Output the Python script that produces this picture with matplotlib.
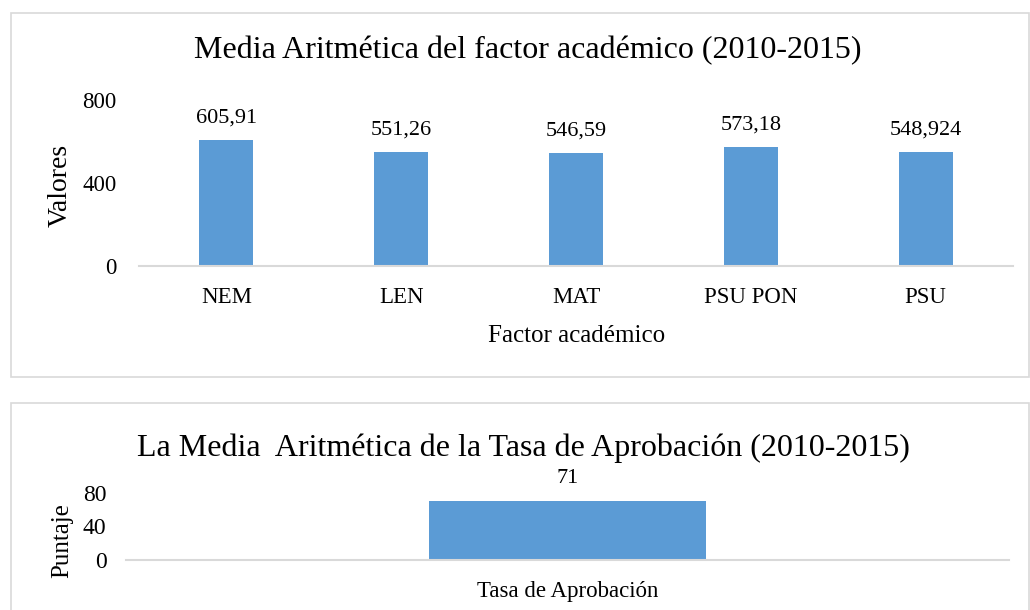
import matplotlib
matplotlib.use('Agg')
from matplotlib import pyplot as plt
from matplotlib.patches import Rectangle

plt.rcParams['font.family'] = ['Liberation Serif', 'DejaVu Serif']

# datos
factores = ['NEM', 'LEN', 'MAT', 'PSU PON', 'PSU']
medias = [605.91, 551.26, 546.59, 573.18, 548.924]
tasa_cat = ['Tasa de Aprobación']
tasa_val = [71]

W, H = 1030, 610
BAR = '#5B9BD5'
GRID = '#D9D9D9'


def box(x0, y0, x1, y1):
    # convierte pixeles (origen arriba-izquierda) a fraccion de figura
    return [x0 / W, 1 - y1 / H, (x1 - x0) / W, (y1 - y0) / H]


def fmt(v):
    return ('%g' % v).replace('.', ',')


fig = plt.figure(figsize=(W / 100, H / 100), dpi=100)

# marcos de los dos graficos
for b in [box(11, 13, 1029, 377), box(11, 403, 1029, 640)]:
    fig.patches.append(Rectangle((b[0], b[1]), b[2], b[3], transform=fig.transFigure,
                                 fill=False, edgecolor=GRID, linewidth=1.2))

# grafico superior
ax1 = fig.add_axes(box(139, 100, 1013, 266))
ax1.bar(range(len(factores)), medias, width=0.31, color=BAR)
ax1.set_xlim(-0.5, len(factores) - 0.5)
ax1.set_ylim(0, 800)
ax1.set_yticks([0, 400, 800])
ax1.set_xticks(range(len(factores)))
ax1.set_xticklabels(factores)
for i, v in enumerate(medias):
    ax1.annotate(fmt(v), (i, v), xytext=(0, 9), textcoords='offset points',
                 ha='center', va='bottom', fontsize=16)
ax1.tick_params(length=0, labelsize=16.5)
ax1.tick_params(axis='y', pad=16)
ax1.tick_params(axis='x', pad=15)
for s in ['top', 'right', 'left']:
    ax1.spines[s].set_visible(False)
ax1.spines['bottom'].set_color(GRID)
ax1.spines['bottom'].set_linewidth(1.5)
fig.text(528 / W, 1 - 51 / H, 'Media Aritmética del factor académico (2010-2015)',
         ha='center', va='center', fontsize=23)
fig.text(60 / W, 1 - 185 / H, 'Valores', rotation=90, ha='center', va='center', fontsize=20)
fig.text(577 / W, 1 - 336 / H, 'Factor académico', ha='center', va='center', fontsize=18)

# grafico inferior
ax2 = fig.add_axes(box(126, 493, 1009, 560))
ax2.bar(range(len(tasa_cat)), tasa_val, width=0.314, color=BAR)
ax2.set_xlim(-0.5, 0.5)
ax2.set_ylim(0, 80)
ax2.set_yticks([0, 40, 80])
ax2.set_xticks(range(len(tasa_cat)))
ax2.set_xticklabels(tasa_cat, fontsize=16.5)
for i, v in enumerate(tasa_val):
    ax2.annotate(fmt(v), (i, v), xytext=(0, 9), textcoords='offset points',
                 ha='center', va='bottom', fontsize=16)
ax2.tick_params(axis='y', length=0, labelsize=17, pad=14)
ax2.tick_params(axis='x', length=0, pad=15)
for s in ['top', 'right', 'left']:
    ax2.spines[s].set_visible(False)
ax2.spines['bottom'].set_color(GRID)
ax2.spines['bottom'].set_linewidth(1.5)
fig.text(523 / W, 1 - 448 / H, 'La Media  Aritmética de la Tasa de Aprobación (2010-2015)',
         ha='center', va='center', fontsize=23)
fig.text(62 / W, 1 - 541 / H, 'Puntaje', rotation=90, ha='center', va='center', fontsize=18)

fig.savefig('out.png', dpi=100)
